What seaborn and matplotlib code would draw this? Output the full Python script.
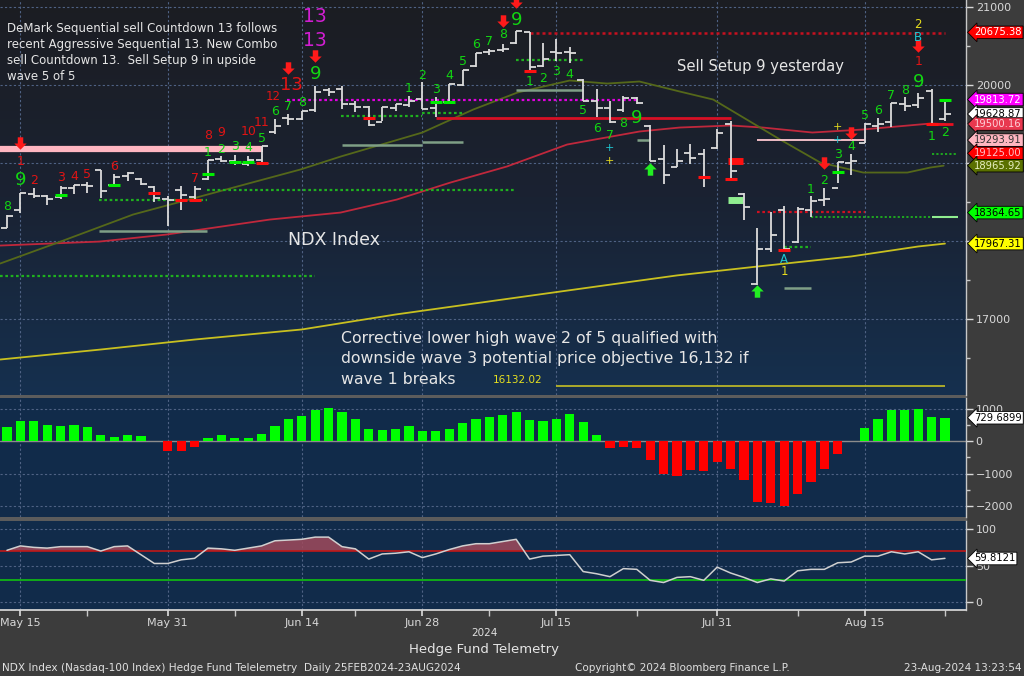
import numpy as np
import pandas as pd
import matplotlib
matplotlib.use('Agg')
import matplotlib.pyplot as plt
import seaborn as sns
from matplotlib.transforms import blended_transform_factory
from matplotlib.path import Path
from matplotlib.patches import Rectangle
from matplotlib.colors import LinearSegmentedColormap

sns.set_theme(style='dark')
plt.rcParams['font.family'] = ['DejaVu Sans']

# ---------------- data ----------------
dates = ['May 14', 'May 15', 'May 16', 'May 17', 'May 20', 'May 21', 'May 22', 'May 23', 'May 24',
         'May 28', 'May 29', 'May 30', 'May 31',
         'Jun 3', 'Jun 4', 'Jun 5', 'Jun 6', 'Jun 7', 'Jun 10', 'Jun 11', 'Jun 12', 'Jun 13', 'Jun 14',
         'Jun 17', 'Jun 18', 'Jun 20', 'Jun 21', 'Jun 24', 'Jun 25', 'Jun 26', 'Jun 27', 'Jun 28',
         'Jul 1', 'Jul 2', 'Jul 3', 'Jul 5', 'Jul 8', 'Jul 9', 'Jul 10', 'Jul 11', 'Jul 12', 'Jul 15',
         'Jul 16', 'Jul 17', 'Jul 18', 'Jul 19', 'Jul 22', 'Jul 23', 'Jul 24', 'Jul 25', 'Jul 26',
         'Jul 29', 'Jul 30', 'Jul 31',
         'Aug 1', 'Aug 2', 'Aug 5', 'Aug 6', 'Aug 7', 'Aug 8', 'Aug 9', 'Aug 12', 'Aug 13', 'Aug 14',
         'Aug 15', 'Aug 16', 'Aug 19', 'Aug 20', 'Aug 21', 'Aug 22', 'Aug 23']

bar_open = [18172, 18404, 18597, 18571, 18560, 18680, 18720, 18906, 18720, 18830, 18800, 18690, 18540,
            18650, 18560, 18790, 19050, 19020, 18990, 19040, 19400, 19580, 19560, 19680, 19930, 19950,
            19760, 19720, 19520, 19700, 19750, 19820, 19700, 19780, 20000, 20240, 20420, 20450, 20540,
            20680, 20250, 20420, 20420, 20070, 19800, 19700, 19680, 19830, 19480, 19050, 18950, 19130,
            19110, 19190, 19500, 18600, 17450, 17900, 18400, 17990, 18400, 18520, 18680, 19000, 19260,
            19480, 19520, 19760, 19740, 19920, 19560]
bar_high = [18339, 18610, 18674, 18584, 18700, 18713, 18751, 18906, 18854, 18880, 18803, 18700, 18571,
            18700, 18700, 19034, 19086, 19099, 19086, 19215, 19562, 19627, 19665, 19987, 19961, 19987,
            19794, 19730, 19717, 19755, 19858, 20039, 19846, 20013, 20193, 20412, 20464, 20528, 20695,
            20682, 20541, 20592, 20489, 20077, 19948, 19794, 19858, 19846, 19485, 19228, 19176, 19240,
            19176, 19434, 19537, 18622, 18172, 18378, 18455, 18442, 18571, 18674, 19009, 19112, 19511,
            19575, 19768, 19846, 19897, 19948, 19820]
bar_low = [18172, 18365, 18558, 18468, 18545, 18597, 18610, 18558, 18700, 18764, 18713, 18494, 18198,
           18404, 18532, 18777, 19009, 18970, 18957, 18983, 19369, 19485, 19549, 19652, 19858, 19691,
           19652, 19472, 19537, 19665, 19717, 19691, 19588, 19755, 19987, 20232, 20386, 20425, 20528,
           20180, 20232, 20309, 20283, 19794, 19588, 19511, 19652, 19755, 19021, 18725, 18944, 18983,
           18687, 19176, 18790, 18275, 17438, 17863, 17863, 17979, 18313, 18455, 18738, 18841, 19253,
           19395, 19459, 19665, 19704, 19498, 19537]
bar_close = [18326, 18610, 18571, 18545, 18674, 18713, 18700, 18635, 18816, 18867, 18725, 18558, 18532,
             18584, 18661, 19034, 19021, 19009, 19034, 19215, 19472, 19562, 19665, 19910, 19910, 19755,
             19717, 19485, 19717, 19755, 19794, 19691, 19781, 20013, 20193, 20412, 20438, 20464, 20695,
             20232, 20335, 20412, 20412, 19794, 19704, 19524, 19833, 19768, 19021, 18841, 19021, 19060,
             18803, 19382, 18893, 18442, 17901, 18082, 17901, 18416, 18507, 18545, 19009, 19021, 19498,
             19498, 19768, 19730, 19833, 19498, 19629]

hist_vals = [454, 629, 629, 515, 485, 515, 454, 196, 144, 206, 175, 0, -299, -299, -186, 113, 206, 113,
             113, 227, 485, 680, 794, 959, 1041, 907, 680, 392, 340, 392, 485, 309, 309, 392, 567, 701,
             763, 814, 907, 660, 629, 680, 845, 598, 186, -206, -175, -206, -567, -1021, -1062, -887,
             -907, -649, -856, -1206, -1887, -1907, -1990, -1629, -1258, -856, -402, 0, 423, 701, 959,
             959, 1010, 742, 730]

osc_vals = [71, 77, 75, 74, 76, 76, 76, 70, 76, 77, 65, 53, 53, 58, 60, 74, 73, 71, 74, 77, 84, 85, 86,
            89, 89, 76, 73, 59, 66, 67, 69, 61, 66, 72, 77, 80, 80, 83, 86, 59, 63, 64, 65, 42, 39, 35,
            46, 45, 30, 27, 34, 35, 30, 48, 40, 34, 27, 32, 29, 43, 45, 45, 54, 55, 63, 63, 69, 66, 69,
            58, 60]

yellow_ma_idx = [-0.5, 7, 14, 22, 29, 37, 44, 50, 56, 63, 68, 70]
yellow_ma_val = [16481, 16609, 16737, 16866, 17058, 17250, 17417, 17559, 17673, 17802, 17930, 17967]
red_ma_idx = [-0.5, 6.9, 11.9, 19.6, 24.9, 29.1, 33.1, 37.3, 41.8, 47.2, 50.2, 54, 56.4, 60.1, 63.9, 68.9, 70]
red_ma_val = [17942, 17993, 18083, 18275, 18365, 18532, 18750, 18955, 19237, 19404, 19455, 19481, 19455,
              19391, 19430, 19506, 19500]
olive_ma_idx = [-0.5, 4, 9.4, 14.4, 21.9, 24.9, 31, 34.8, 38.1, 42, 44.8, 47.2, 50.2, 52.7, 55.2, 57.7,
                60.7, 63.9, 67.2, 68.9, 69.9]
olive_ma_val = [17712, 17993, 18339, 18570, 18917, 19083, 19391, 19686, 19904, 20058, 20019, 20045, 19917,
                19814, 19558, 19301, 19006, 18878, 18878, 18942, 18966]

# TD level lines
G, GG = '#1fb01f', '#7f9f86'
lvl_start = [-0.5, 6.9, 14.9, -0.5, 6.9, 20.9, 24.9, 31, 25, 31, 32, 39, 38, 38, 47, 56, 56, 60, 69, 58, 58, 69, 69, 41]
lvl_end = [19.1, 14.9, 37.9, 23, 14.9, 47, 31, 34, 31, 34, 54, 70, 43, 43, 48, 64, 64, 69, 71, 60, 60, 71, 70.6, 70]
lvl_price = [19182, 18523, 18660, 17549, 18126, 19814, 19609, 19647, 19237, 19272, 19580, 20673, 20318,
             19942, 19301, 19297, 18374, 18314, 18314, 17921, 17404, 19122, 19494, 16139]
lvl_color = ['#ffb6c1', G, G, G, GG, '#e000e0', G, G, GG, GG, '#d81025', '#c81020', G, GG, GG, '#ffc8d0',
             '#d01020', G, '#90ee90', G, GG, G, '#e81020', '#b8b428']
lvl_style = ['-', ':', ':', ':', '-', ':', ':', ':', '-', '-', '-', ':', ':', '-', '-', '-', ':', ':', '-',
             ':', '-', ':', '-', '-']
lvl_width = [4.5, 1.6, 1.6, 1.6, 1.8, 1.6, 1.6, 1.6, 1.8, 1.8, 2.0, 1.8, 1.6, 1.8, 1.8, 1.3, 1.6, 1.3, 1.5,
             1.6, 1.8, 1.3, 2.0, 1.3]

# small coloured bar ticks
dash_idx = [4, 8, 15, 17, 18, 32, 33, 62, 70, 11, 13, 14, 19, 27, 39, 52, 54, 58, 69]
dash_price = [18596, 18712, 18865, 19019, 19019, 19776, 19776, 18891, 19814, 18622, 18532, 18532, 18994,
              19583, 20186, 18827, 18789, 17891, 19494]
dash_color = ['#00ee00'] * 9 + ['#ff1010'] * 10

# TD count labels
RD, GR, MG, CY, YL = '#e01414', '#12d612', '#d21ed2', '#1ec8d2', '#e6dc1e'
td_text = ['8', '9', '1', '2', '3', '4', '5', '6', '7', '8', '9', '10', '11', '1', '2', '3', '4', '5', '6',
           '7', '8', '12', '13', '9', '13', '13', '1', '2', '3', '4', '5', '6', '7', '8', '9', '1', '2', '3',
           '4', '5', '6', '7', '8', '9', '+', '+', '1', '2', '3', '4', '5', '6', '7', '8', '9', '1', 'B', '2',
           '+', '+', 'A', '1', '1', '2']
td_idx = [0, 1, 1, 2, 4, 5, 6, 8, 14, 15, 16, 18, 19, 15, 16, 17, 18, 19, 20, 21, 22, 19.9, 21.2, 23, 23, 23,
          30, 31, 32, 33, 34, 35, 36, 37, 38, 39, 40, 41, 42, 43, 44, 45, 46, 47, 45, 45, 60, 61, 62, 63,
          64, 65, 66, 67, 68, 68, 68, 68, 62, 62, 58, 58, 69, 70]
td_price = [18442, 18776, 19019, 18776, 18814, 18827, 18853, 18955, 18801, 19353, 19391, 19404, 19519,
            19135, 19173, 19212, 19199, 19314, 19660, 19724, 19776, 19853, 19994, 20147, 20570, 20878,
            19955, 20122, 19942, 20122, 20301, 20519, 20558, 20647, 20840, 20045, 20083, 20173, 20135,
            19673, 19442, 19353, 19506, 19583, 19199, 19032, 18660, 18776, 19109, 19212, 19609, 19673,
            19865, 19929, 20045, 20301, 20609, 20776, 19468, 19301, 17763, 17609, 19340, 19391]
td_color = [GR, GR, RD, RD, RD, RD, RD, RD, RD, RD, RD, RD, RD, GR, GR, GR, GR, GR, GR, GR, GR, RD, RD, GR,
            MG, MG] + [GR] * 18 + [CY, YL] + [GR] * 9 + [RD, CY, YL, YL, CY, CY, YL, GR, GR]
td_size = [9, 13, 9, 9, 9, 9, 9, 9, 9, 9, 9, 9, 9, 9, 9, 9, 9, 9, 9, 9, 9, 8.5, 13, 13, 13.5, 13.5,
           9, 9, 9, 9, 9, 9, 9, 9, 13, 9, 9, 9, 9, 9, 9, 9, 9, 13, 8, 8, 9, 9, 9, 9, 9, 9, 9, 9, 13, 9, 8.5,
           8.5, 8, 8, 8.5, 8.5, 9, 9]

down_arrow_idx = [1, 21, 23, 37, 38, 61, 63, 68]
down_arrow_price = [19263, 20224, 20378, 20827, 21070, 18994, 19391, 20494]
up_arrow_idx = [48, 56]
up_arrow_price = [18917, 17353]

tick_labels = ['May 15', 'May 31', 'Jun 14', 'Jun 28', 'Jul 15', 'Jul 31', 'Aug 15']
minor_labels = ['May 22', 'Jun 7', 'Jun 21', 'Jul 8', 'Jul 23', 'Aug 8', 'Aug 23']

tags_main = [(20675.38, '20675.38', '#ff0000', 'white'), (19813.72, '19813.72', '#ff00ff', 'white'),
             (19628.87, '19628.87', 'white', 'black'), (19500.16, '19500.16', '#e8384f', '#ffd0d8'),
             (19293.91, '19293.91', '#ffb6c1', '#333333'), (19125.00, '19125.00', '#ff0000', '#ffc0c8'),
             (18965.92, '18965.92', '#5a7000', '#e8f0c0'), (18364.65, '18364.65', '#00ff00', 'black'),
             (17967.31, '17967.31', '#ffff00', 'black')]

corrective_lines = ['Corrective lower high wave 2 of 5 qualified with',
                    'downside wave 3 potential price objective 16,132 if',
                    'wave 1 breaks']

# ---------------- figure ----------------
W, H = 1024, 676
fig = plt.figure(figsize=(W / 100, H / 100), dpi=100, facecolor='#3c3c3c')


def box(x0, y0, x1, y1):
    return [x0 / W, 1 - y1 / H, (x1 - x0) / W, (y1 - y0) / H]


ax1 = fig.add_axes(box(0, 0, 966, 395))
ax2 = fig.add_axes(box(0, 398, 966, 517))
ax3 = fig.add_axes(box(0, 521, 966, 610))

idx = np.arange(len(dates))
tick_pos = [dates.index(t) for t in tick_labels]
minor_pos = [dates.index(t) for t in minor_labels]
XL = (-0.52, 71.57)
grid_kw = dict(color='#4f6284', linestyle=(0, (2, 2)), linewidth=0.8)

for ax in (ax1, ax2, ax3):
    ax.set_xlim(*XL)
    for s in ('top', 'left', 'bottom'):
        ax.spines[s].set_visible(False)
    ax.spines['right'].set_color('#c8c8c8')
    ax.spines['right'].set_linewidth(1)
    ax.yaxis.tick_right()
    ax.tick_params(axis='y', which='major', colors='#d8d8d8', labelsize=8, length=5, width=1,
                   direction='out', pad=2, right=True, left=False)
    ax.tick_params(axis='y', which='minor', colors='#c8c8c8', length=3, width=1, right=True, left=False)

# main panel background gradient
cmap = LinearSegmentedColormap.from_list('bg', ['#1c1d22', '#1a2232', '#15304f'])
ax1.imshow(np.linspace(0, 1, 256).reshape(-1, 1), cmap=cmap, extent=[0, 1, 0, 1], transform=ax1.transAxes,
           aspect='auto', zorder=-10, interpolation='bicubic')
ax2.set_facecolor('#112b4a')
ax3.set_facecolor('#112b4a')

# ---- main panel ----
ax1.set_ylim(16026, 21090)
ax1.set_yticks([17000, 18000, 19000, 20000, 21000])
ax1.set_yticklabels(['17000', '', '', '20000', '21000'])
ax1.set_yticks(np.arange(16500, 21001, 500), minor=True)
for v in [17000, 18000, 19000, 20000, 21000]:
    ax1.axhline(v, zorder=1, **grid_kw)

for ax in (ax1, ax2, ax3):
    for p in tick_pos:
        ax.axvline(p, zorder=1, **grid_kw)

# moving averages
sns.lineplot(x=yellow_ma_idx, y=yellow_ma_val, ax=ax1, color='#c8c020', lw=1.3, zorder=3)
sns.lineplot(x=red_ma_idx, y=red_ma_val, ax=ax1, color='#c0283c', lw=1.3, zorder=3)
sns.lineplot(x=olive_ma_idx, y=olive_ma_val, ax=ax1, color='#55681a', lw=1.3, zorder=3)

# level lines
for s, e, p, c, ls, lw in zip(lvl_start, lvl_end, lvl_price, lvl_color, lvl_style, lvl_width):
    style = (0, (1.2, 1.2)) if ls == ':' else '-'
    ax1.hlines(p, s, e, colors=c, linestyles=style, lw=lw, zorder=4)

# thick block markers on Aug 1
ax1.hlines([19032, 18532], 53.8, 54.9, colors=['#ff1010', '#90ee90'], lw=5, zorder=5)

# OHLC bars
bar_col = '#dcdcdc'
ax1.vlines(idx, bar_low, bar_high, colors=bar_col, lw=1.3, zorder=6)
ax1.hlines(bar_open, idx - 0.45, idx, colors=bar_col, lw=1.3, zorder=6)
ax1.hlines(bar_close, idx, idx + 0.45, colors=bar_col, lw=1.3, zorder=6)
ax1.hlines(dash_price, np.array(dash_idx) - 0.45, np.array(dash_idx) + 0.45, colors=dash_color, lw=2.2,
           zorder=7)

# arrows
down = Path([(-0.22, 0.5), (0.22, 0.5), (0.22, 0.0), (0.5, 0.0), (0, -0.5), (-0.5, 0.0), (-0.22, 0.0),
             (-0.22, 0.5)], [Path.MOVETO] + [Path.LINETO] * 6 + [Path.CLOSEPOLY])
up = Path([(x, -y) for x, y in down.vertices], down.codes)
ax1.scatter(down_arrow_idx, down_arrow_price, marker=down, s=80, color='#ff1a1a', lw=0, zorder=8)
ax1.scatter(up_arrow_idx, up_arrow_price, marker=up, s=80, color='#22ee22', lw=0, zorder=8)

for t, i, p, c, sz in zip(td_text, td_idx, td_price, td_color, td_size):
    ax1.text(i, p, t, color=c, fontsize=sz, ha='center', va='center', zorder=9)

# ---- histogram panel ----
hdf = pd.DataFrame({'i': idx, 'v': hist_vals, 's': ['pos' if v >= 0 else 'neg' for v in hist_vals]})
sns.barplot(data=hdf, x='i', y='v', hue='s', palette={'pos': '#00ff00', 'neg': '#ff0000'},
            native_scale=True, dodge=False, width=0.68, saturation=1, legend=False, ax=ax2, zorder=3,
            linewidth=0)
ax2.set_xlim(*XL)
ax2.set_ylim(-2344, 1340)
ax2.set_yticks([1000, 0, -1000, -2000])
ax2.set_yticks(np.arange(-2000, 1001, 500), minor=True)
for v in [1000, -1000, -2000]:
    ax2.axhline(v, zorder=1, **grid_kw)
ax2.axhline(0, color='#8c8c8c', lw=1, zorder=2)
ax2.set_xlabel('')
ax2.set_ylabel('')

# ---- oscillator panel ----
osc = np.array(osc_vals, dtype=float)
ax3.fill_between(idx, osc, 70, where=osc > 70, interpolate=True, color='#a04a5c', alpha=0.85, lw=0, zorder=2)
ax3.fill_between(idx, osc, 30, where=osc < 30, interpolate=True, color='#2a8a3a', alpha=0.8, lw=0, zorder=2)
ax3.axhline(70, color='#c01818', lw=1.2, zorder=3)
ax3.axhline(30, color='#10c010', lw=1.2, zorder=3)
sns.lineplot(x=idx, y=osc, ax=ax3, color='#d0d0d0', lw=1.1, zorder=4)
ax3.set_ylim(-10.5, 111)
ax3.set_yticks([100, 50, 0])
for v in [100, 50, 0]:
    ax3.axhline(v, zorder=1, **grid_kw)
ax3.spines['bottom'].set_visible(True)
ax3.spines['bottom'].set_color('#d8d8d8')
ax3.set_xlabel('')
ax3.set_ylabel('')

for ax in (ax1, ax2):
    ax.set_xticks(tick_pos)
    ax.tick_params(axis='x', which='both', bottom=False, labelbottom=False)
ax1.set_xlabel('')
ax1.set_ylabel('')
ax3.set_xlim(*XL)
ax3.set_xticks(tick_pos)
ax3.set_xticklabels(tick_labels)
ax3.set_xticks(minor_pos, minor=True)
ax3.tick_params(axis='x', which='major', colors='#d8d8d8', labelsize=8, length=4, direction='out', pad=2,
                bottom=True)
ax3.tick_params(axis='x', which='minor', colors='#c8c8c8', length=4, direction='out', bottom=True)


# ---- value tags ----
def tag(ax, y, text, fc, tc):
    tr = blended_transform_factory(ax.transAxes, ax.transData)
    ax.text(1.0085, y, text, transform=tr, fontsize=7.2, color=tc, va='center', ha='left',
            bbox=dict(boxstyle='larrow,pad=0.13', fc=fc, ec='black', lw=0.6), clip_on=False, zorder=30)


for y, t, fc, tc in tags_main:
    tag(ax1, y, t, fc, tc)
tag(ax2, hist_vals[-1], '729.6899', 'white', 'black')
tag(ax3, 59.8121, '59.8121', 'white', 'black')

# separators
for y0, y1 in [(395, 398), (517, 521)]:
    fig.add_artist(Rectangle((0, 1 - y1 / H), 966 / W, (y1 - y0) / H, transform=fig.transFigure,
                             color='#5c5c5c', zorder=0))


# ---- texts ----
def ftext(x, y, s, **kw):
    fig.text(x / W, 1 - y / H, s, **kw)


ftext(7, 22, 'DeMark Sequential sell Countdown 13 follows\nrecent Aggressive Sequential 13. New Combo\n'
             'sell Countdown 13.  Sell Setup 9 in upside\nwave 5 of 5',
      color='#e6e6e6', fontsize=8.5, va='top', ha='left', linespacing=1.3)
ftext(677, 67, 'Sell Setup 9 yesterday', color='#e6e6e6', fontsize=10.6, va='center', ha='left')
ftext(288, 240, 'NDX Index', color='#e6e6e6', fontsize=12.5, va='center', ha='left')
for line, yy in zip(corrective_lines, [338, 359, 380]):
    ftext(341, yy, line, color='#e6e6e6', fontsize=11.3, va='center', ha='left')
ftext(493, 380, '16132.02', color='#e6e020', fontsize=7.5, va='center', ha='left')
ftext(484, 633, '2024', color='#e0e0e0', fontsize=7.5, va='center', ha='center')
ftext(484, 650, 'Hedge Fund Telemetry', color='#e6e6e6', fontsize=9.5, va='center', ha='center')
ftext(2, 668, 'NDX Index (Nasdaq-100 Index) Hedge Fund Telelemetry  Daily 25FEB2024-23AUG2024',
      color='#e0e0e0', fontsize=7.6, va='center', ha='left')
ftext(575, 668, 'Copyright\u00a9 2024 Bloomberg Finance L.P.', color='#e0e0e0', fontsize=7.5, va='center',
      ha='left')
ftext(1022, 668, '23-Aug-2024 13:23:54', color='#e0e0e0', fontsize=7.5, va='center', ha='right')

fig.savefig('out.png', dpi=100, facecolor=fig.get_facecolor())
